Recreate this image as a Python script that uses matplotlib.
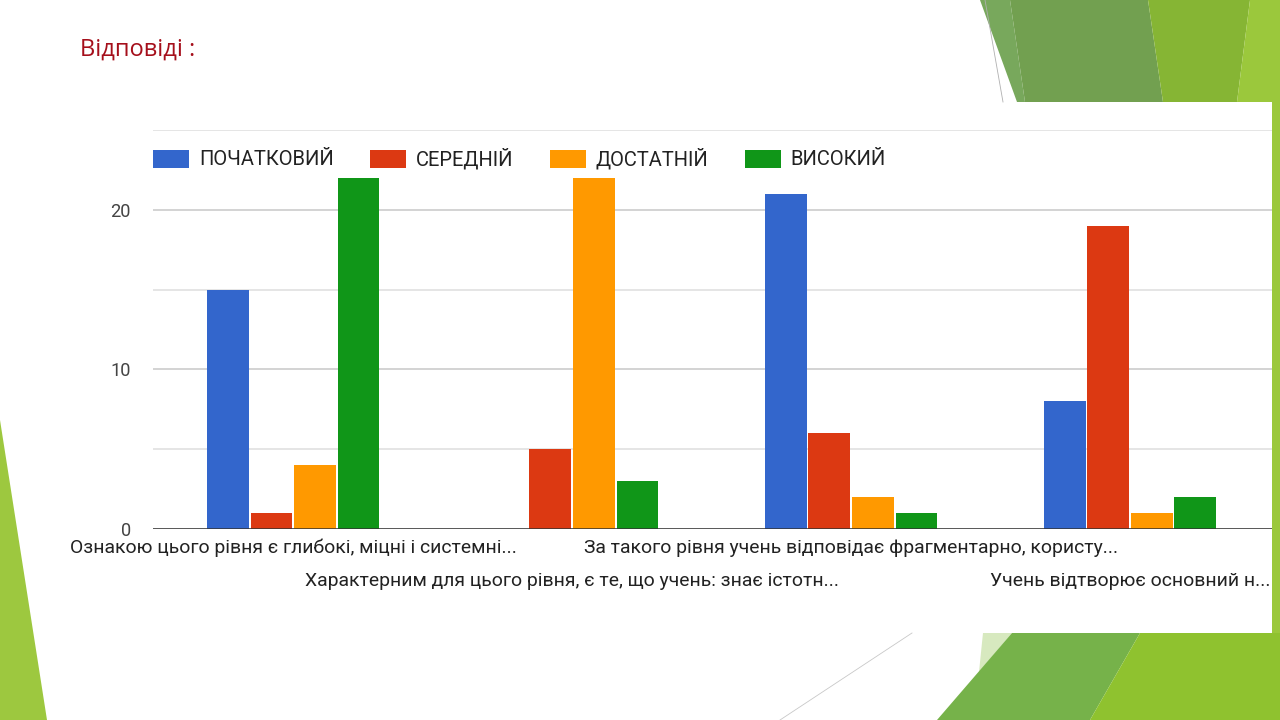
import numpy as np
import matplotlib
matplotlib.use('Agg')
import matplotlib.pyplot as plt
from matplotlib import font_manager
from matplotlib.patches import Polygon

# Дані діаграми
categories = [
    "Ознакою цього рівня є глибокі, міцні і системні...",
    "Характерним для цього рівня, є те, що учень: знає істотн...",
    "За такого рівня учень відповідає фрагментарно, користу...",
    "Учень відтворює основний н...",
]
levels = ["ПОЧАТКОВИЙ", "СЕРЕДНІЙ", "ДОСТАТНІЙ", "ВИСОКИЙ"]
pochatkovyi = [15, 0, 21, 8]
serednii = [1, 5, 6, 19]
dostatnii = [4, 22, 2, 1]
vysokyi = [22, 3, 1, 2]
colors = ["#3366cc", "#dc3912", "#ff9900", "#109618"]

# Шрифт: вузький, якщо є
available = {f.name for f in font_manager.fontManager.ttflist}
if "Liberation Sans Narrow" in available:
    chart_font, k = "Liberation Sans Narrow", 1.0
else:
    chart_font, k = "Roboto", 0.82

W, H = 1280, 720
fig = plt.figure(figsize=(W / 100, H / 100), dpi=100)


def px(x, y):
    return (x / W, 1 - y / H)


def shape(points, color, z=-3):
    fig.patches.append(Polygon([px(*p) for p in points], closed=True,
                               transform=fig.transFigure, facecolor=color,
                               edgecolor="none", zorder=z))


# Зелене оформлення слайду
shape([(980, 0), (1010, 0), (1025, 102), (1017, 102)], "#78a85c")
shape([(1010, 0), (1148, 0), (1163, 102), (1025, 102)], "#72a050")
shape([(1148, 0), (1250, 0), (1237, 102), (1163, 102)], "#86b534")
shape([(1250, 0), (1280, 0), (1280, 633), (1272, 633), (1272, 102), (1237, 102)], "#9bc83c")
shape([(983, 633), (1012, 633), (979, 672)], "#d7e9bf")
shape([(1012, 633), (1140, 633), (1090, 720), (937, 720)], "#76b24a")
shape([(1140, 633), (1280, 633), (1280, 720), (1090, 720)], "#8fc22f")
shape([(0, 420), (47, 720), (0, 720)], "#9dc83f")
fig.lines.append(plt.Line2D([985 / W, 1003 / W], [1, 1 - 102 / H], transform=fig.transFigure,
                            color="#b0b0b0", lw=0.6, zorder=-2))
fig.lines.append(plt.Line2D([780 / W, 912 / W], [0, 1 - 633 / H], transform=fig.transFigure,
                            color="#c8c8c8", lw=0.6, zorder=-2))

# Заголовок
fig.text(80 / W, 1 - 56 / H, "Відповіді :", color="#a50f1b", fontsize=17,
         family="Open Sans", va="baseline", ha="left")

ax = fig.add_axes([153 / W, 1 - 529 / H, (1272 - 153) / W, (529 - 130) / H])
ax.set_facecolor("white")

x = np.arange(len(categories))
series = [pochatkovyi, serednii, dostatnii, vysokyi]
step, width = 0.156, 0.149
for i, (name, vals) in enumerate(zip(levels, series)):
    ax.bar(x + (i - 1.5) * step, vals, width, color=colors[i], label=name, zorder=3)

ax.set_xlim(-0.502, 3.509)
ax.set_ylim(0, 25)
ax.set_yticks([0, 10, 20])
ax.set_yticks([5, 15, 25], minor=True)
ax.grid(axis="y", which="major", color="#cccccc", lw=1.2, zorder=0)
ax.grid(axis="y", which="minor", color="#e0e0e0", lw=1.2, zorder=0)
ax.axhline(0, color="#333333", lw=1.8, zorder=4)
for s in ax.spines.values():
    s.set_visible(False)
ax.tick_params(axis="y", which="both", length=0, pad=16, labelsize=16 * k,
               labelcolor="#444444")
for lab in ax.get_yticklabels():
    lab.set_family(chart_font)

ax.set_xticks(x)
ax.set_xticklabels(categories, fontsize=17 * k, color="#222222", family=chart_font)
ax.tick_params(axis="x", length=0)
for i, t in enumerate(ax.xaxis.get_major_ticks()):
    t.set_pad(7 if i % 2 == 0 else 31)

fs = 17.7 * k
ax.legend(loc="upper left", bbox_to_anchor=(0.0, 0.955), ncol=4, frameon=False,
          prop={"family": chart_font, "size": fs}, labelcolor="#222222",
          handlelength=26 / fs, handleheight=14.4 / fs, handletextpad=7.2 / fs,
          columnspacing=26 / fs, borderaxespad=0, borderpad=0)

fig.savefig("out.png", dpi=100)
